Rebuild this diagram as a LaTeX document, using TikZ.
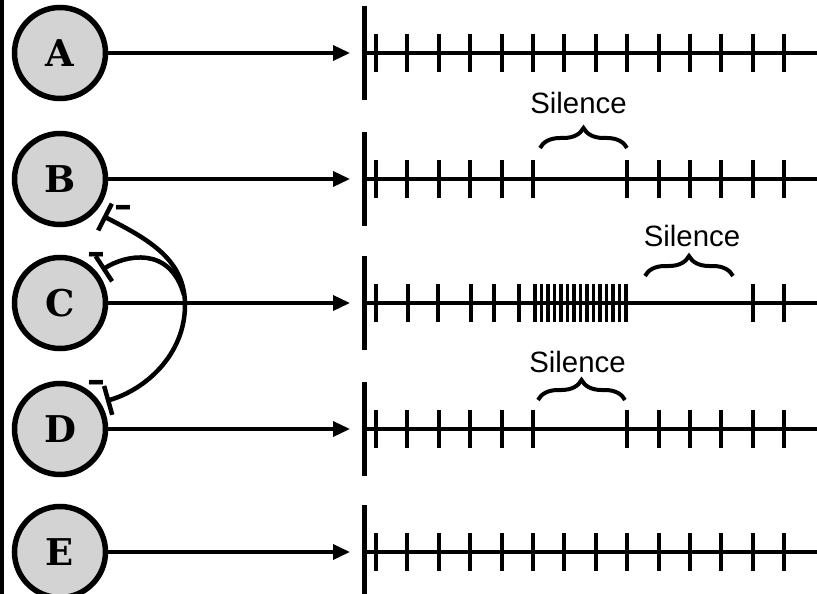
\documentclass[tikz,border=0pt]{standalone}
\usepackage{fontspec}
\newfontfamily\silfont{Liberation Sans}
\newfontfamily\letterfont{DejaVu Serif}
\newfontfamily\minusfont{DejaVu Sans}
\usetikzlibrary{arrows.meta,decorations.pathreplacing,calc}
\definecolor{neurongray}{RGB}{211,211,211}
\begin{document}
\begin{tikzpicture}[x=1bp,y=-1bp,
  neuron/.style={circle,draw,line width=5.5bp,fill=neurongray,minimum size=91bp,inner sep=0pt,font=\letterfont\bfseries\fontsize{37}{37}\selectfont},
  input/.style={line width=3.5bp,-{Triangle[length=17bp,width=15bp]}},
  wall/.style={line width=5bp},
  axisline/.style={line width=4bp},
  spike/.style={line width=4bp},
  inhib/.style={line width=4.5bp},
  inhibbar/.tip={Bar[width=30bp,line width=4.5bp]},
  silbrace/.style={decorate,decoration={brace,amplitude=20bp,aspect=0.5},line width=4bp},
  sil/.style={font=\silfont\fontsize{29.5}{29.5}\selectfont,inner sep=0pt},
  minus/.style={font=\minusfont\bfseries\fontsize{36}{36}\selectfont,inner sep=0pt,anchor=base}
]
\useasboundingbox (0,0) rectangle (817,594);
\clip (0,0) rectangle (817,594);
\fill[white] (0,0) rectangle (817,594);
\fill[black] (0,0) rectangle (4,594);

\foreach \n/\y in {A/53,B/179,C/303,D/429,E/552}{
  \node[neuron] (\n) at (60,\y) {\n};
  \coordinate (t\n) at (350,\y);
  \coordinate (w\n) at (364,\y);
  \coordinate (e\n) at (817,\y);
  \draw[input] (\n) -- (t\n);
  \draw[wall] ($(w\n)+(0,-47)$) -- ($(w\n)+(0,47)$);
  \draw[axisline] (w\n) -- (e\n);
}

% spikes A and E
\foreach \y in {53,552}{
  \foreach \k in {0,...,13}{
    \draw[spike] ({376+31.4*\k},\y-19) -- ({376+31.4*\k},\y+19);
  }
}
% spikes B and D
\foreach \y in {179,429}{
  \foreach \k in {0,1,2,3,4,5,8,9,10,11,12,13}{
    \draw[spike] ({376+31.4*\k},\y-19) -- ({376+31.4*\k},\y+19);
  }
}
% spikes C
\foreach \x in {376,408,438,471,494,519,753,784}{
  \draw[spike] (\x,284) -- (\x,322);
}
\foreach \i in {0,...,14}{
  \draw[line width=3.2bp] ({535+6.5*\i},284) -- ({535+6.5*\i},322);
}

% silence braces
\draw[silbrace] (540,148) -- (627,148);
\node[sil] (sB) at (578.5,102.5) {Silence};
\draw[silbrace] (645,276) -- (733,276);
\node[sil] (sC) at (692,235.5) {Silence};
\draw[silbrace] (538,400) -- (625,400);
\node[sil] (sD) at (577.5,361.5) {Silence};

% inhibitory connections
\draw[inhib,inhibbar-inhibbar]
  ($(B)+(43,37)$) .. controls ($(B)+(90,61)$) and ($(B)+(125,81)$) ..
  ($(C)+(125,2)$) .. controls ($(C)+(125,52)$) and ($(D)+(85,-39)$) ..
  ($(D)+(46,-28)$);
\draw[inhib,inhibbar-]
  ($(C)+(42,-33)$) .. controls ($(C)+(65,-48)$) and ($(C)+(110,-58)$) .. ($(C)+(124,-8)$);

\node[minus] (mB) at (123,218) {–};
\node[minus] (mC) at (96,264) {–};
\node[minus] (mD) at (96,392) {–};
\end{tikzpicture}
\end{document}
